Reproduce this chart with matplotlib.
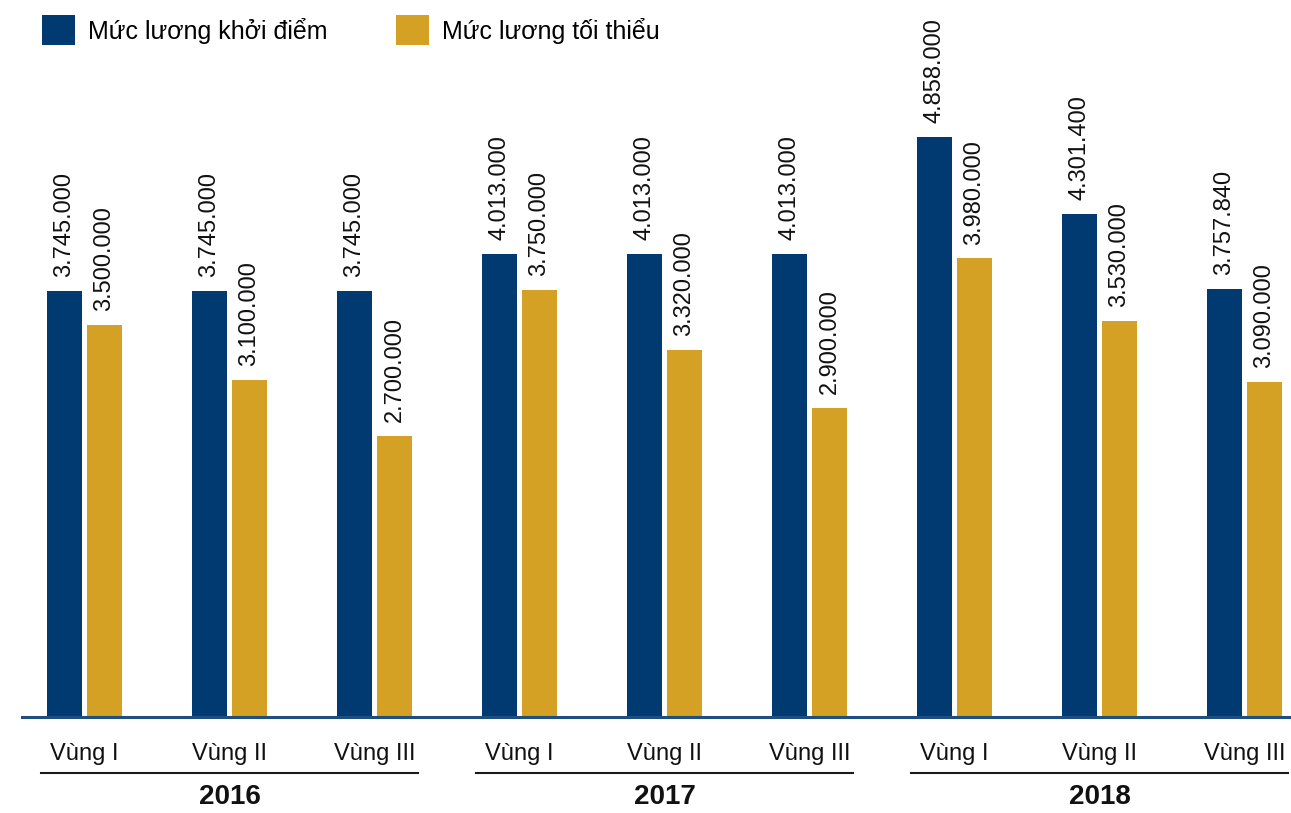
import matplotlib
matplotlib.use("Agg")
import matplotlib.pyplot as plt
import numpy as np

plt.rcParams['font.family'] = ['Liberation Sans', 'DejaVu Sans']

years = ['2016', '2017', '2018']
regions = ['Vùng I', 'Vùng II', 'Vùng III']
starting_salary = [3745000, 3745000, 3745000, 4013000, 4013000, 4013000, 4858000, 4301400, 3757840]
minimum_wage = [3500000, 3100000, 2700000, 3750000, 3320000, 2900000, 3980000, 3530000, 3090000]
series_names = ['Mức lương khởi điểm', 'Mức lương tối thiểu']

navy = '#003a70'
gold = '#d5a125'

def fmt(v):
    return '{:,}'.format(v).replace(',', '.')

fig = plt.figure(figsize=(12.91, 8.13), dpi=100)
ax = fig.add_axes([0, 96 / 813, 1, 717 / 813])

x = np.arange(len(starting_salary))
w = 0.241
off = 0.138
b1 = ax.bar(x - off, starting_salary, w, color=navy, label=series_names[0])
b2 = ax.bar(x + off, minimum_wage, w, color=gold, label=series_names[1])

for bars, vals in [(b1, starting_salary), (b2, minimum_wage)]:
    for rect, v in zip(bars, vals):
        ax.annotate(fmt(v), xy=(rect.get_x() + rect.get_width() / 2, v),
                    xytext=(0, 10), textcoords='offset points',
                    rotation=90, ha='center', va='bottom', fontsize=17, color='#111111')

ax.set_xlim(-84.5 / 145, (1291 - 84.5) / 145)
ax.set_ylim(670000, 5845000)

for s in ['top', 'left', 'right']:
    ax.spines[s].set_visible(False)
ax.spines['bottom'].set_color('#1f4e80')
ax.spines['bottom'].set_linewidth(2.2)
ax.spines['bottom'].set_bounds((22 - 84.5) / 145, (1291 - 84.5) / 145)
ax.set_yticks([])
ax.set_xticks(x)
ax.set_xticklabels(regions * len(years), fontsize=17, color='#111111')
ax.tick_params(axis='x', length=0, pad=19)

trans = ax.get_xaxis_transform()
for i, yr in enumerate(years):
    first = i * 3
    last = i * 3 + 2
    ax.plot([first - 0.3, last + 0.3], [-0.078, -0.078], color='#1a1a1a', lw=1.5,
            transform=trans, clip_on=False)
    ax.text((first + last) / 2, -0.1115, yr, transform=trans, ha='center', va='center',
            fontsize=20, fontweight='bold', color='#111111')

fig.legend(handles=[b1, b2], loc='upper left', bbox_to_anchor=(42 / 1291, 1 - 15 / 813),
           ncol=2, frameon=False, fontsize=18, handlelength=1.33, handleheight=1.5,
           handletextpad=0.5, columnspacing=2.75, borderpad=0, borderaxespad=0)

fig.savefig('out.png', dpi=100)
